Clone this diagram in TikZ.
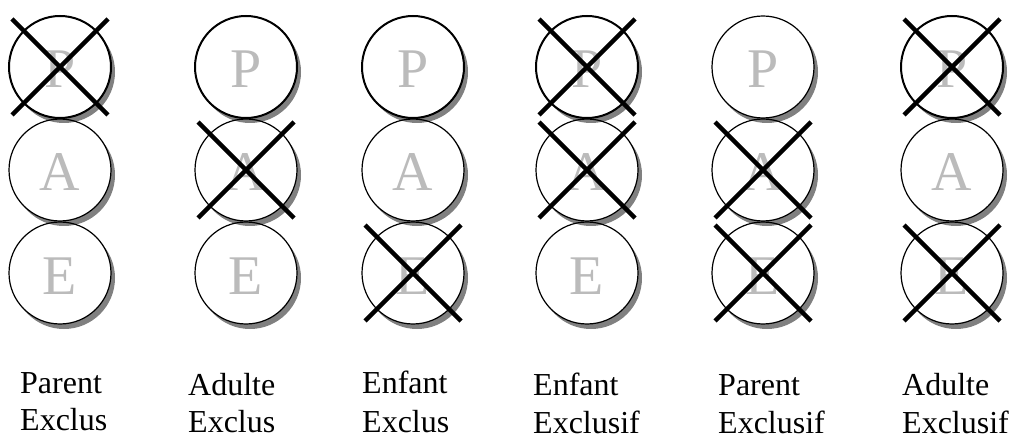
\documentclass[tikz,border=0pt]{standalone}
\usepackage{fontspec}
\setmainfont{Liberation Serif}
\definecolor{shd}{HTML}{808080}
\definecolor{letc}{HTML}{BBBBBB}
\begin{document}
\begin{tikzpicture}[x=1pt,y=-1pt,
  shadowc/.style={fill=shd},
  bodyc/.style={fill=white},
  circ/.style={circle, draw=black, line width=1.2pt, minimum size=102pt, inner sep=0pt, text=letc, text height=42pt, text depth=0pt, font=\fontsize{56}{56}\selectfont},
  crossl/.style={line width=4.5pt},
  lab/.style={anchor=base west, inner sep=0pt, font=\fontsize{32}{37}\selectfont}
]
\useasboundingbox (0,0) rectangle (1019,438);
% shadows and white bodies (lower circles first)
\foreach \x in {60,246,413,587,763,952}{
  \foreach \y in {273,170,67}{
    \fill[shadowc] (\x+4,\y+5) circle[radius=51pt];
    \fill[bodyc] (\x,\y) circle[radius=51pt];
  }
}
% circles with letters
\foreach \i/\x/\pw in {1/60/2pt,2/246/2pt,3/413/2pt,4/587/2pt,5/763/1.2pt,6/952/2pt}{
  \node[circ, line width=\pw] (c\i P) at (\x,67) {P};
  \node[circ] (c\i A) at (\x,170) {A};
  \node[circ] (c\i E) at (\x,273) {E};
}
% crosses
\foreach \n in {c1P,c2A,c3E,c4P,c4A,c5A,c5E,c6P,c6E}{
  \draw[crossl] ([shift={(-48,-48)}]\n.center) -- ([shift={(48,48)}]\n.center);
  \draw[crossl] ([shift={(48,-48)}]\n.center) -- ([shift={(-48,48)}]\n.center);
}
% labels
\node[lab] (t1a) at (20,393) {Parent};
\node[lab] (t1b) at (20,430) {Exclus};
\node[lab] (t2a) at (188,395) {Adulte};
\node[lab] (t2b) at (188,432) {Exclus};
\node[lab] (t3a) at (362,393) {Enfant};
\node[lab] (t3b) at (362,432) {Exclus};
\node[lab] (t4a) at (533,395) {Enfant};
\node[lab] (t4b) at (533,433) {Exclusif};
\node[lab] (t5a) at (718,395) {Parent};
\node[lab] (t5b) at (718,433) {Exclusif};
\node[lab] (t6a) at (902,395) {Adulte};
\node[lab] (t6b) at (902,433) {Exclusif};
\end{tikzpicture}
\end{document}
